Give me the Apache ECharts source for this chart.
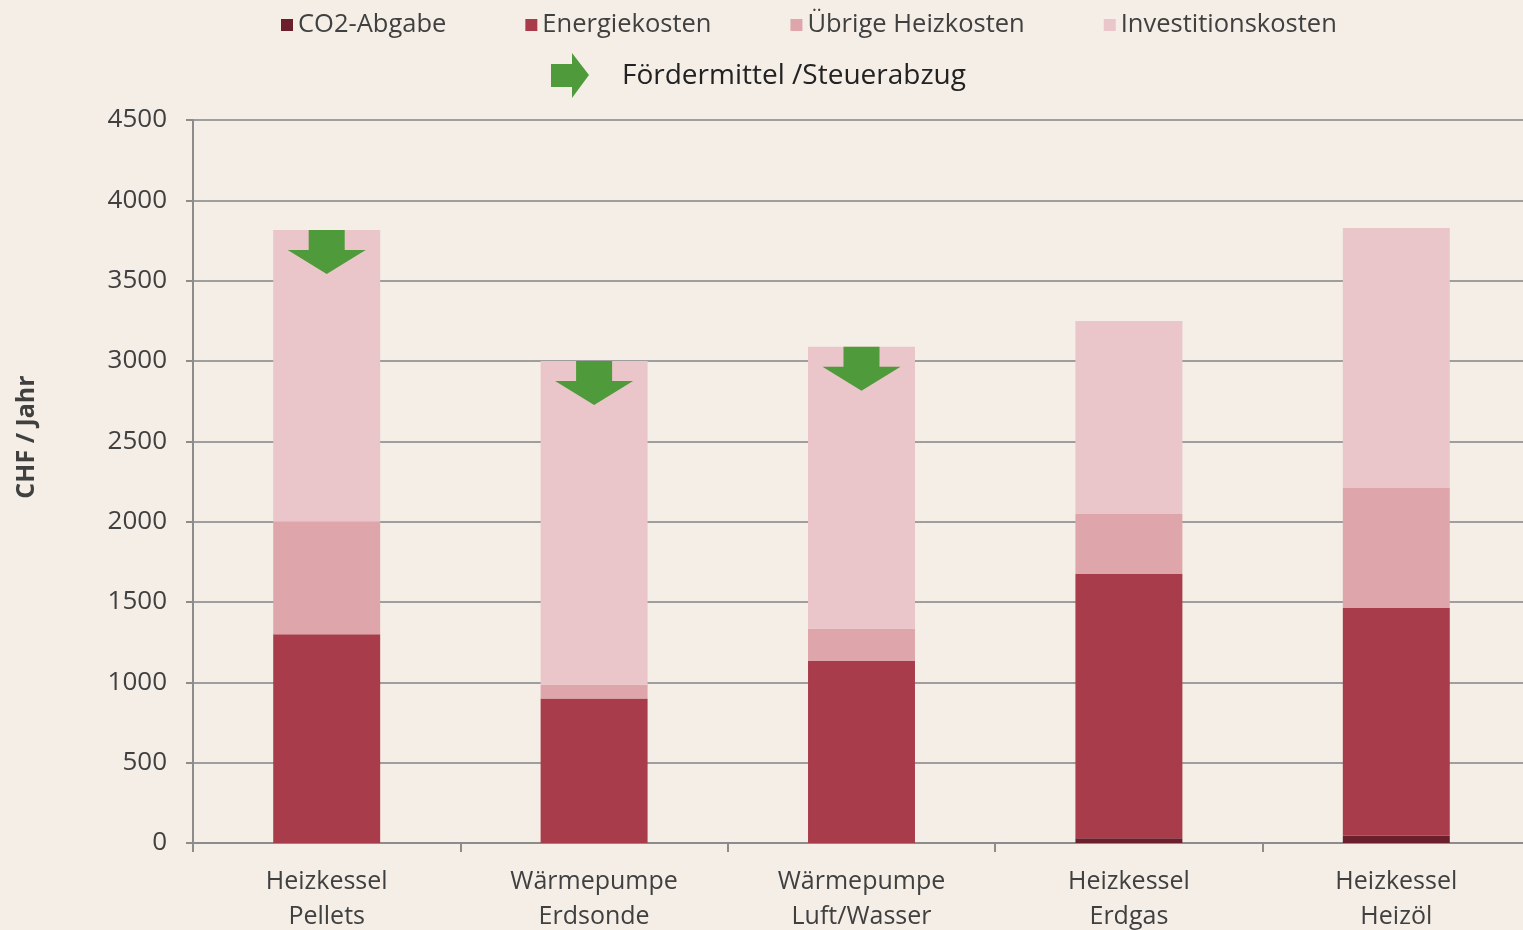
<!DOCTYPE html>
<html>
<head>
<meta charset="utf-8">
<script src="https://cdn.jsdelivr.net/npm/echarts@6/dist/echarts.min.js"></script>
<style>
  html, body { margin: 0; padding: 0; background: #f4eee6; }
  #chart { width: 1523px; height: 930px; }
</style>
</head>
<body>
<div id="chart"></div>
<script>
// Kategorien (x-Achse)
const categories = [
  'Heizkessel\nPellets',
  'Wärmepumpe\nErdsonde',
  'Wärmepumpe\nLuft/Wasser',
  'Heizkessel\nErdgas',
  'Heizkessel\nHeizöl'
]
// Kostenanteile in CHF / Jahr
const co2Abgabe = [0, 0, 0, 30, 45]
const energiekosten = [1300, 900, 1133, 1645, 1418]
const uebrigeHeizkosten = [700, 85, 200, 373, 747]
const investitionskosten = [1815, 2015, 1755, 1201, 1618]
// Kategorien mit Fördermitteln / Steuerabzug (Index)
const foerderung = [0, 1, 2]
const yTicks = { min: 0, max: 4500, interval: 500 }

const textColor = '#404040'
const font = 'Open Sans'

const totals = categories.map((_, i) =>
  co2Abgabe[i] + energiekosten[i] + uebrigeHeizkosten[i] + investitionskosten[i])

const chart = echarts.init(document.getElementById('chart'))

const bar = (name, data, color) => ({
  type: 'bar',
  name: name,
  stack: 'kosten',
  data: data,
  barWidth: '40%',
  itemStyle: { color: color },
  emphasis: { disabled: true }
})

const invest = bar('Investitionskosten', investitionskosten, '#eac5c9')
// grüne Pfeile für Fördermittel
invest.markPoint = {
  symbol: 'path://M21,0 L57,0 L57,20 L78,20 L39,44 L0,20 L21,20 Z',
  symbolSize: [78, 44],
  symbolOffset: [0, 22],
  itemStyle: { color: '#4f9a3a' },
  label: { show: false },
  data: foerderung.map((i) => ({ coord: [i, totals[i]] }))
}

const options = {
  backgroundColor: '#f4eee6',
  animation: false,
  textStyle: { fontFamily: font },
  legend: {
    left: 276,
    top: 7,
    icon: 'rect',
    itemWidth: 12,
    itemHeight: 12,
    itemGap: 79,
    textStyle: { color: textColor, fontSize: 25.5, fontFamily: font },
    data: ['CO2-Abgabe', 'Energiekosten', 'Übrige Heizkosten', 'Investitionskosten']
  },
  grid: {
    left: 193,
    right: -7,
    top: 120,
    bottom: 87,
    outerBoundsMode: 'none'
  },
  xAxis: {
    type: 'category',
    data: categories,
    axisLine: { lineStyle: { color: '#8c8c8c', width: 2 } },
    axisTick: { show: true, length: 9, lineStyle: { color: '#8c8c8c', width: 2 } },
    axisLabel: {
      color: textColor,
      fontSize: 25,
      lineHeight: 35,
      margin: 21,
      fontFamily: font
    }
  },
  yAxis: {
    type: 'value',
    min: yTicks.min,
    max: yTicks.max,
    interval: yTicks.interval,
    axisLine: { show: true, lineStyle: { color: '#8c8c8c', width: 2 } },
    axisTick: { show: true, length: 7, lineStyle: { color: '#8c8c8c', width: 2 } },
    axisLabel: {
      color: textColor,
      fontSize: 26,
      margin: 26,
      fontFamily: font,
      formatter: (v) => String(v)
    },
    splitLine: { lineStyle: { color: '#9e9e9e', width: 2 } }
  },
  series: [
    bar('CO2-Abgabe', co2Abgabe, '#6b1f2c'),
    bar('Energiekosten', energiekosten, '#a93c4a'),
    bar('Übrige Heizkosten', uebrigeHeizkosten, '#dea5ab'),
    invest
  ],
  graphic: [
    {
      // Achsentitel
      type: 'text',
      x: 27,
      y: 437,
      rotation: Math.PI / 2,
      style: {
        text: 'CHF / Jahr',
        fill: textColor,
        fontSize: 25,
        fontWeight: 'bold',
        fontFamily: font,
        align: 'center',
        verticalAlign: 'middle'
      }
    },
    {
      type: 'polygon',
      left: 551,
      top: 53,
      shape: { points: [[0, 11], [21, 11], [21, 0], [38, 22], [21, 45], [21, 34], [0, 34]] },
      style: { fill: '#4f9a3a' }
    },
    {
      type: 'text',
      left: 622,
      top: 62,
      style: { text: 'Fördermittel /Steuerabzug', fill: '#222', fontSize: 28, fontFamily: font }
    }
  ]
}

chart.setOption(options)
</script>
</body>
</html>
